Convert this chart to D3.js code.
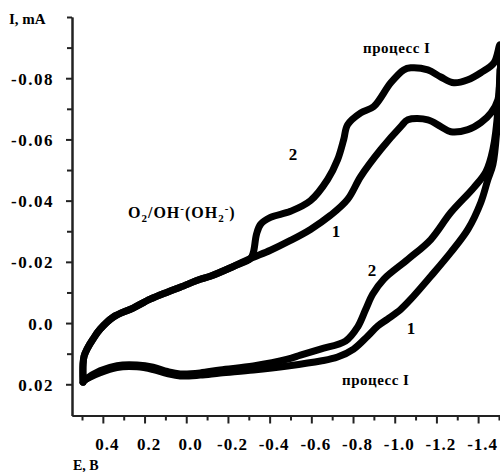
<!DOCTYPE html>
<html>
<head>
<meta charset="utf-8">
<script src="https://cdn.jsdelivr.net/npm/d3@7"></script>
<style>
  body { margin: 0; background: #fff; }
  text { font-family: "Liberation Serif", "Times New Roman", serif; font-weight: bold; fill: #000; }
</style>
</head>
<body>
<svg width="500" height="472"></svg>
<script>
var svg = d3.select("svg");

// tick values and labels
var xMajor = [0.4, 0.2, 0.0, -0.2, -0.4, -0.6, -0.8, -1.0, -1.2, -1.4];
var xLabels = ["0.4", "0.2", "0.0", "-0.2", "-0.4", "-0.6", "-0.8", "-1.0", "-1.2", "-1.4"];
var xMinor = [0.5, 0.3, 0.1, -0.1, -0.3, -0.5, -0.7, -0.9, -1.1, -1.3, -1.5];
var yMajor = [-0.08, -0.06, -0.04, -0.02, 0.0, 0.02];
var yLabels = ["-0.08", "-0.06", "-0.04", "-0.02", "0.0", "0.02"];
var yMinor = [-0.10, -0.09, -0.07, -0.05, -0.03, -0.01, 0.01];

// curve 1 (inner loop), E in V, I in mA
var curve1E = [0.495, 0.495, 0.490, 0.476, 0.447, 0.413, 0.351, 0.255, 0.173, 0.091, 0.029, -0.067, -0.115, -0.226, -0.308,
  -0.404, -0.500, -0.596, -0.692, -0.774, -0.837, -0.933, -1.029, -1.063, -1.159, -1.221, -1.269, -1.351, -1.413, -1.462, -1.495, -1.505,
  -1.490, -1.471, -1.447, -1.413, -1.351, -1.269, -1.173, -1.077, -1.029, -0.966, -0.918, -0.870, -0.803, -0.726, -0.644, -0.486,
  -0.322, -0.163, -0.067, 0.029, 0.091, 0.159, 0.236, 0.332, 0.413, 0.486, 0.495];
var curve1I = [0.0193, 0.0134, 0.0108, 0.0085, 0.0052, 0.0020, -0.0019, -0.0049, -0.0078, -0.0101, -0.0117, -0.0143, -0.0153, -0.0185, -0.0211,
  -0.0238, -0.0270, -0.0306, -0.0352, -0.0404, -0.0479, -0.0567, -0.0642, -0.0664, -0.0664, -0.0642, -0.0625, -0.0632, -0.0655, -0.0687, -0.0730, -0.0827,
  -0.0632, -0.0518, -0.0469, -0.0394, -0.0306, -0.0231, -0.0153, -0.0078, -0.0045, -0.0013, 0.0010, 0.0043, 0.0085, 0.0111, 0.0124, 0.0140,
  0.0153, 0.0163, 0.0170, 0.0173, 0.0165, 0.0152, 0.0143, 0.0145, 0.0162, 0.0186, 0.0193];

// curve 2 (outer loop)
var curve2E = [0.495, 0.495, 0.490, 0.476, 0.447, 0.413, 0.351, 0.255, 0.173, 0.091, 0.029, -0.067, -0.115, -0.226, -0.308,
  -0.322, -0.337, -0.356, -0.404, -0.500, -0.596, -0.678, -0.726, -0.755, -0.774, -0.837, -0.899, -0.981, -1.043, -1.077, -1.159,
  -1.221, -1.284, -1.351, -1.413, -1.476, -1.505,
  -1.495, -1.471, -1.438, -1.380, -1.269, -1.173, -1.063, -0.947, -0.894, -0.861, -0.822, -0.764, -0.644, -0.548, -0.486,
  -0.322, -0.163, -0.067, 0.029, 0.091, 0.159, 0.236, 0.332, 0.413, 0.486, 0.495];
var curve2I = [0.0193, 0.0134, 0.0108, 0.0085, 0.0052, 0.0020, -0.0019, -0.0049, -0.0078, -0.0101, -0.0117, -0.0143, -0.0153, -0.0185, -0.0211,
  -0.0231, -0.0290, -0.0322, -0.0345, -0.0365, -0.0400, -0.0469, -0.0534, -0.0599, -0.0648, -0.0687, -0.0707, -0.0785, -0.0827, -0.0834, -0.0827,
  -0.0804, -0.0785, -0.0795, -0.0818, -0.0850, -0.0909,
  -0.0697, -0.0567, -0.0495, -0.0443, -0.0361, -0.0273, -0.0208, -0.0143, -0.0094, -0.0045, 0.0013, 0.0059, 0.0085, 0.0105, 0.0118,
  0.0140, 0.0153, 0.0163, 0.0166, 0.0158, 0.0144, 0.0137, 0.0139, 0.0156, 0.0186, 0.0193];

var x = d3.scaleLinear().domain([0.548, -1.505]).range([72, 500]);
var y = d3.scaleLinear().domain([0.0302, -0.10]).range([415.5, 17]);

// axes
var xAxisMinor = svg.append("g").attr("transform", "translate(0,415.5)")
  .call(d3.axisBottom(x).tickValues(xMinor).tickSize(5).tickSizeOuter(0).tickFormat(""));
var xAxis = svg.append("g").attr("transform", "translate(0,415.5)")
  .call(d3.axisBottom(x).tickValues(xMajor).tickSize(8).tickSizeOuter(0)
    .tickFormat(function(d, i) { return xLabels[i]; }));
xAxis.selectAll("text").attr("y", 34).attr("dy", 0).attr("dx", 4)
  .style("font-size", "17px").style("letter-spacing", "1px");

var yAxisMinor = svg.append("g").attr("transform", "translate(72,0)")
  .call(d3.axisLeft(y).tickValues(yMinor).tickSize(5).tickSizeOuter(0).tickFormat(""));
var yAxis = svg.append("g").attr("transform", "translate(72,0)")
  .call(d3.axisLeft(y).tickValues(yMajor).tickSize(6).tickSizeOuter(0)
    .tickFormat(function(d, i) { return yLabels[i]; }));
yAxis.selectAll("text").attr("x", -18).attr("dy", "0.36em")
  .style("font-size", "17px").style("letter-spacing", "1.5px");

svg.selectAll(".domain, .tick line").attr("stroke", "#222").attr("stroke-width", 2);
svg.selectAll(".tick text").attr("font-family", null).attr("font-size", null);

// curves
var line = d3.line()
  .x(function(d) { return x(d[0]); })
  .y(function(d) { return y(d[1]); })
  .curve(d3.curveCatmullRom.alpha(0.5));

var curves = [d3.zip(curve1E, curve1I), d3.zip(curve2E, curve2I)];

svg.selectAll(".cv")
  .data(curves)
  .enter().append("path")
  .attr("class", "cv")
  .attr("d", line)
  .attr("fill", "none")
  .attr("stroke", "#000")
  .attr("stroke-width", 7)
  .attr("stroke-linejoin", "round")
  .attr("stroke-linecap", "round");

// labels
svg.append("text").attr("x", 9).attr("y", 24).style("font-size", "15px").text("I, mA");
svg.append("text").attr("x", 73).attr("y", 470).style("font-size", "14px").text("E, B");

var ox = svg.append("text").attr("x", 128).attr("y", 218)
  .style("font-size", "16px").style("letter-spacing", "1px");
ox.append("tspan").text("O");
ox.append("tspan").attr("dy", 4).style("font-size", "11px").text("2");
ox.append("tspan").attr("dy", -4).text("/OH");
ox.append("tspan").attr("dy", -6).style("font-size", "11px").text("-");
ox.append("tspan").attr("dy", 6).text("(OH");
ox.append("tspan").attr("dy", 4).style("font-size", "11px").text("2");
ox.append("tspan").attr("dy", -10).style("font-size", "11px").text("-");
ox.append("tspan").attr("dy", 6).text(")");

svg.append("text").attr("x", 363).attr("y", 53).style("font-size", "15px").style("letter-spacing", "0.5px").text("процесс I");
svg.append("text").attr("x", 342).attr("y", 385).style("font-size", "15px").style("letter-spacing", "0.5px").text("процесс I");

svg.append("text").attr("x", 293).attr("y", 160).attr("text-anchor", "middle").style("font-size", "17px").text("2");
svg.append("text").attr("x", 336).attr("y", 237).attr("text-anchor", "middle").style("font-size", "17px").text("1");
svg.append("text").attr("x", 372).attr("y", 276).attr("text-anchor", "middle").style("font-size", "17px").text("2");
svg.append("text").attr("x", 411).attr("y", 334).attr("text-anchor", "middle").style("font-size", "17px").text("1");
</script>
</body>
</html>
